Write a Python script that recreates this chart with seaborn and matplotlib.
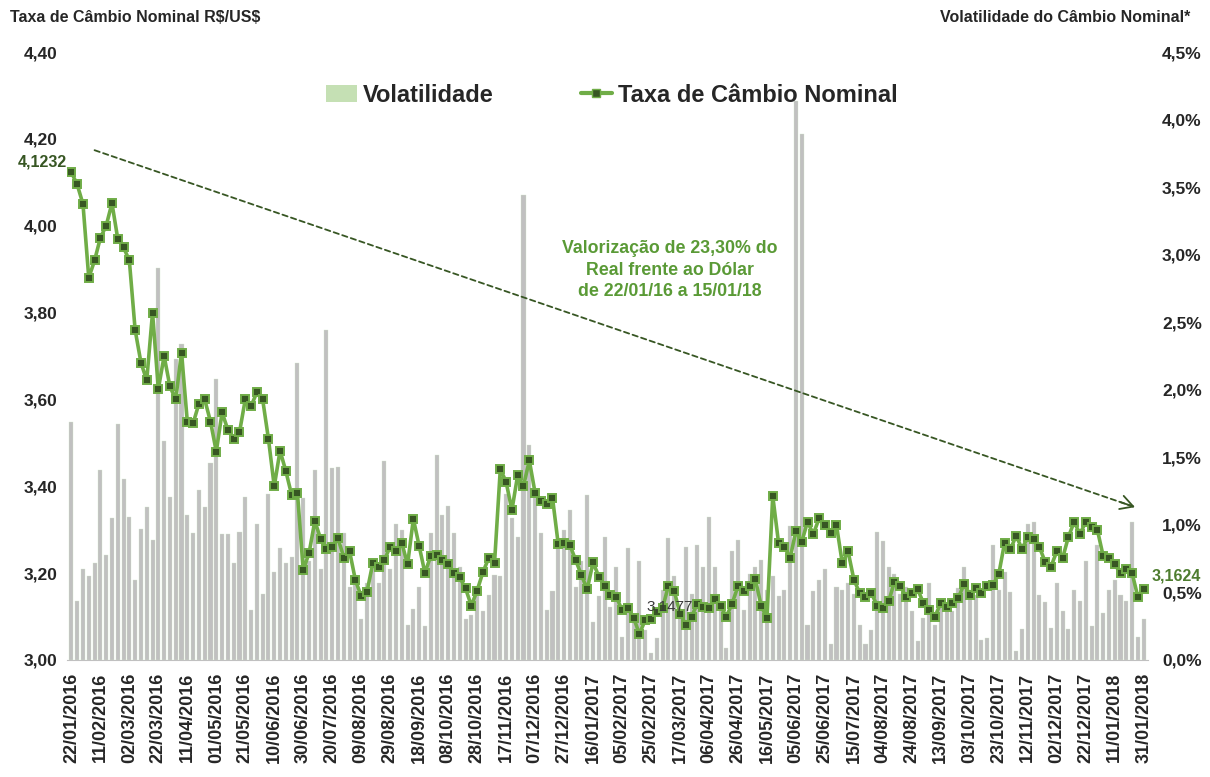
import numpy as np
import pandas as pd
import matplotlib
matplotlib.use("Agg")
import matplotlib.pyplot as plt
import seaborn as sns
from matplotlib.patches import Patch
from matplotlib.lines import Line2D

# === Dados (amostra a cada 4 dias corridos, 22/01/2016 a 31/01/2018)
DATA_INICIO = "2016-01-22"
DATA_FIM = "2018-01-31"
PASSO_DIAS = 4

taxa = [
    4.123, 4.095, 4.05, 3.88, 3.92, 3.972, 4.00, 4.052, 3.97, 3.95,
    3.92, 3.76, 3.685, 3.644, 3.80, 3.624, 3.70, 3.63, 3.60, 3.708,
    3.549, 3.545, 3.59, 3.60, 3.549, 3.48, 3.57, 3.53, 3.51, 3.524,
    3.60, 3.585, 3.616, 3.60, 3.509, 3.40, 3.482, 3.435, 3.38, 3.385,
    3.207, 3.246, 3.32, 3.279, 3.255, 3.26, 3.28, 3.236, 3.25, 3.184,
    3.147, 3.157, 3.223, 3.215, 3.23, 3.261, 3.25, 3.27, 3.22, 3.325,
    3.262, 3.20, 3.24, 3.242, 3.23, 3.22, 3.20, 3.19, 3.165, 3.125,
    3.16, 3.202, 3.235, 3.223, 3.44, 3.41, 3.345, 3.426, 3.40, 3.46,
    3.385, 3.367, 3.36, 3.374, 3.266, 3.27, 3.265, 3.23, 3.195, 3.163,
    3.225, 3.192, 3.17, 3.15, 3.146, 3.115, 3.12, 3.097, 3.06, 3.092,
    3.095, 3.11, 3.12, 3.171, 3.159, 3.107, 3.081, 3.10, 3.13, 3.122,
    3.12, 3.14, 3.124, 3.10, 3.13, 3.17, 3.16, 3.17, 3.186, 3.125,
    3.096, 3.378, 3.27, 3.26, 3.235, 3.297, 3.272, 3.318, 3.29, 3.326,
    3.31, 3.292, 3.31, 3.223, 3.25, 3.185, 3.154, 3.145, 3.155, 3.125,
    3.12, 3.135, 3.18, 3.17, 3.145, 3.155, 3.163, 3.131, 3.115, 3.10,
    3.132, 3.123, 3.131, 3.142, 3.175, 3.15, 3.165, 3.154, 3.17, 3.173,
    3.198, 3.27, 3.255, 3.286, 3.256, 3.283, 3.278, 3.26, 3.226, 3.215,
    3.25, 3.234, 3.283, 3.318, 3.29, 3.318, 3.306, 3.30, 3.24, 3.235,
    3.22, 3.20, 3.21, 3.20, 3.145, 3.1624,
]

volatilidade = [
    1.76, 0.44, 0.67, 0.62, 0.72, 1.41, 0.78, 1.05, 1.75, 1.34,
    1.06, 0.59, 0.97, 1.13, 0.89, 2.90, 1.62, 1.21, 2.23, 2.34,
    1.07, 0.94, 1.26, 1.13, 1.46, 2.08, 0.93, 0.93, 0.72, 0.95,
    1.21, 0.37, 1.01, 0.49, 1.23, 0.65, 0.83, 0.72, 0.76, 2.20,
    1.20, 0.73, 1.41, 0.67, 2.44, 1.42, 1.43, 0.94, 0.54, 0.59,
    0.30, 0.57, 0.69, 0.57, 1.47, 0.67, 1.01, 0.96, 0.26, 0.38,
    0.54, 0.25, 0.94, 1.52, 1.07, 1.14, 0.94, 0.69, 0.30, 0.33,
    0.47, 0.36, 0.48, 0.63, 0.62, 1.23, 1.05, 0.91, 3.44, 1.59,
    1.20, 0.94, 0.37, 0.51, 0.89, 0.96, 1.11, 0.54, 0.73, 1.22,
    0.28, 0.47, 0.91, 0.39, 0.69, 0.17, 0.83, 0.30, 0.73, 0.22,
    0.05, 0.16, 0.52, 0.90, 0.62, 0.38, 0.84, 0.49, 0.85, 0.69,
    1.06, 0.69, 0.39, 0.09, 0.81, 0.89, 0.37, 0.64, 0.69, 0.74,
    0.52, 0.62, 0.47, 0.52, 0.99, 4.14, 3.89, 0.26, 0.51, 0.59,
    0.67, 0.12, 0.54, 0.52, 0.57, 0.49, 0.26, 0.12, 0.22, 0.95,
    0.88, 0.69, 0.64, 0.49, 0.54, 0.36, 0.14, 0.31, 0.57, 0.26,
    0.39, 0.42, 0.36, 0.53, 0.69, 0.52, 0.48, 0.15, 0.16, 0.85,
    0.52, 0.65, 0.50, 0.07, 0.23, 1.01, 1.02, 0.48, 0.43, 0.24,
    0.57, 0.36, 0.23, 0.52, 0.44, 0.73, 0.25, 0.85, 0.35, 0.52,
    0.59, 0.48, 0.44, 1.02, 0.17, 0.30,
]

TEXTO_VALORIZACAO = "Valorização de 23,30% do\nReal frente ao Dólar\nde 22/01/16 a 15/01/18"

# === Cores
VERDE_LINHA = "#70ad47"
VERDE_ESCURO = "#375623"
VERDE_TEXTO = "#5a9a36"
CINZA_BARRA = "#c0c0c0"
VERDE_CLARO = "#c5e0b4"

# === Eixo x (dias desde o início)
inicio = pd.Timestamp(DATA_INICIO)
dias = np.arange(len(taxa)) * PASSO_DIAS
datas_ticks = pd.date_range(DATA_INICIO, DATA_FIM, freq="20D")
pos_ticks = (datas_ticks - inicio).days
rotulos_x = [d.strftime("%d/%m/%Y") for d in datas_ticks]

df = pd.DataFrame({"dia": dias, "taxa": taxa, "vol": volatilidade})

# === Figura
sns.set_style("white")
plt.rcParams["font.family"] = ["Liberation Sans", "DejaVu Sans"]
plt.rcParams["font.weight"] = "bold"

fig = plt.figure(figsize=(12.1, 7.77), dpi=100)
ax = fig.add_axes([0.0554, 0.1506, 0.8934, 0.7824])
ax2 = ax.twinx()

sns.barplot(data=df, x="dia", y="vol", ax=ax2, native_scale=True,
            color=CINZA_BARRA, saturation=1, width=0.7, errorbar=None,
            edgecolor="#d6e8cb", linewidth=0.25)

sns.lineplot(data=df, x="dia", y="taxa", ax=ax, color=VERDE_LINHA, lw=2.6,
             marker="s", markersize=5.5, markerfacecolor=VERDE_ESCURO,
             markeredgecolor=VERDE_LINHA, markeredgewidth=1.4)

ax.set_zorder(ax2.get_zorder() + 1)
ax.patch.set_visible(False)

# === Escalas e ticks
ax.set_xlim(-3, dias[-1] + 3)
ax.set_ylim(3.0, 4.4)
ax2.set_ylim(0, 4.5)

yt = np.arange(3.0, 4.41, 0.2)
ax.set_yticks(yt)
ax.set_yticklabels([f"{v:.2f}".replace(".", ",") for v in yt])
yt2 = np.arange(0, 4.51, 0.5)
ax2.set_yticks(yt2)
ax2.set_yticklabels([f"{v:.1f}%".replace(".", ",") for v in yt2])

ax.set_xticks(pos_ticks)
ax.set_xticklabels(rotulos_x, rotation=90)

for a in (ax, ax2):
    a.set_xlabel("")
    a.set_ylabel("")
    for s in a.spines.values():
        s.set_visible(False)
ax.spines["bottom"].set_visible(True)
ax.spines["bottom"].set_color(CINZA_BARRA)

ax.tick_params(axis="x", length=5, color=CINZA_BARRA, width=1, pad=4, labelsize=13)
ax.tick_params(axis="y", length=0, pad=7, labelsize=12.5)
ax2.tick_params(axis="y", length=0, pad=10, labelsize=12.5)

# === Rótulos de dados
ax.annotate("4,1232", xy=(dias[0], taxa[0]), xytext=(-29, 10), textcoords="offset pixels",
            ha="center", va="center", color=VERDE_ESCURO, fontsize=11.5, annotation_clip=False)
ax.annotate("3,1624", xy=(dias[-1], taxa[-1]), xytext=(33, 13), textcoords="offset pixels",
            ha="center", va="center", color="#4e7d2f", fontsize=11.5, annotation_clip=False)
ax.text(413, 3.122, "3,1477", ha="center", va="center", color="#3a3a3a",
        fontsize=11, fontweight="normal")

# === Tendência (linha tracejada + ponta de seta aberta)
ax.annotate("", xy=(734, 3.352), xytext=(16, 4.174),
            arrowprops=dict(arrowstyle="-", linestyle=(0, (3, 2)),
                            color=VERDE_ESCURO, lw=1.3, shrinkA=0, shrinkB=0))
ax.annotate("", xy=(734, 3.352), xytext=(724, 3.3635),
            arrowprops=dict(arrowstyle="->,head_length=0.9,head_width=0.5",
                            color=VERDE_ESCURO, lw=1.3, shrinkA=0, shrinkB=0))
ax.text(413, 3.898, TEXTO_VALORIZACAO, ha="center", va="center", color=VERDE_TEXTO,
        fontsize=12.8, linespacing=1.35)

# === Legenda
handles = [
    Patch(facecolor=VERDE_CLARO, edgecolor="none"),
    Line2D([0], [0], color=VERDE_LINHA, lw=3, marker="s", markersize=6,
           markerfacecolor=VERDE_ESCURO, markeredgecolor=VERDE_LINHA),
]
ax.legend(handles, ["Volatilidade", "Taxa de Câmbio Nominal"], loc="center",
          bbox_to_anchor=(0.504, 0.929), ncol=2, frameon=False,
          prop={"size": 17, "weight": "bold"}, handlelength=1.3,
          handletextpad=0.25, columnspacing=3.7)

# === Títulos dos eixos
fig.text(10 / 1210, 1 - 18 / 777, "Taxa de Câmbio Nominal R\\$/US\\$",
         ha="left", va="center", fontsize=11.5)
fig.text(1190 / 1210, 1 - 18 / 777, "Volatilidade do Câmbio Nominal*",
         ha="right", va="center", fontsize=11.5)

fig.savefig("out.png", dpi=100)
plt.close(fig)
